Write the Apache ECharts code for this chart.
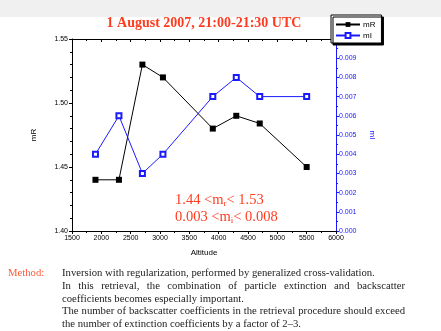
<!DOCTYPE html>
<html>
<head>
<meta charset="utf-8">
<script src="https://cdn.jsdelivr.net/npm/echarts@6/dist/echarts.min.js"></script>
<style>
  html, body { margin: 0; padding: 0; background: #fff; }
  #chart { width: 441px; height: 331px; position: absolute; left: 0; top: 0; }
  .method { position: absolute; font-family: 'Liberation Serif', 'DejaVu Serif', serif; font-size: 10.7px; line-height: 12.8px; color: #222; }
  .method .lbl { position: absolute; left: 8px; top: 266px; color: #ff5a3a; }
  .method .body { position: absolute; left: 62px; top: 266px; width: 343px; text-align: justify; }
  .method p { margin: 0; }
</style>
</head>
<body>
<div id="chart"></div>
<div class="method">
  <div class="lbl">Method:</div>
  <div class="body">
    <p style="text-align:left">Inversion with regularization, performed by generalized cross-validation.</p>
    <p>In this retrieval, the combination of particle extinction and backscatter coefficients becomes especially important.</p>
    <p>The number of backscatter coefficients in the retrieval procedure should exceed the number of extinction coefficients by a factor of 2&ndash;3.</p>
  </div>
</div>
<script>
// altitude of each retrieval point
const altitude = [1900, 2300, 2700, 3050, 3900, 4300, 4700, 5500]
// real part of refractive index
const mR = [1.44, 1.44, 1.53, 1.52, 1.48, 1.49, 1.484, 1.45]
// imaginary part of refractive index
const mI = [0.004, 0.006, 0.003, 0.004, 0.007, 0.008, 0.007, 0.007]

const titleText = '1 August 2007, 21:00-21:30 UTC'
const red = '#ff3b1f'
const blue = '#1a1aff'

const chart = echarts.init(document.getElementById('chart'))

const pairs = (ys) => altitude.map((x, i) => [x, ys[i]])

chart.setOption({
  animation: false,
  grid: { left: 72, right: 105, top: 39, bottom: 100 },
  legend: {
    orient: 'vertical',
    left: 331,
    top: 15,
    padding: [5, 6, 3, 4],
    itemGap: 2,
    itemWidth: 24,
    itemHeight: 6,
    backgroundColor: '#fff',
    borderColor: '#000',
    borderWidth: 1,
    borderRadius: 0,
    shadowColor: '#000',
    shadowBlur: 0,
    shadowOffsetX: 2,
    shadowOffsetY: 2,
    textStyle: { fontSize: 8, lineHeight: 9, fontFamily: 'Liberation Sans', color: '#000', padding: [0, 0, 0, -2] },
    data: ['mR', 'mI']
  },
  xAxis: [{
    type: 'value',
    min: 1500,
    max: 6000,
    interval: 500,
    name: 'Altitude',
    nameLocation: 'middle',
    nameGap: 18,
    nameTextStyle: { fontSize: 8, fontFamily: 'Liberation Sans', color: '#000' },
    axisLine: { lineStyle: { color: '#000', width: 1 } },
    axisTick: { inside: false, length: 3, lineStyle: { color: '#000' } },
    minorTick: { show: true, splitNumber: 2, length: 2, lineStyle: { color: '#000' } },
    axisLabel: { fontSize: 7, fontFamily: 'Liberation Sans', color: '#000', margin: 4, formatter: v => String(v) },
    splitLine: { show: false }
  }, {
    type: 'value',
    position: 'top',
    min: 1500,
    max: 6000,
    interval: 500,
    axisLine: { show: true, lineStyle: { color: '#000', width: 1 } },
    axisTick: { inside: true, length: 3, lineStyle: { color: '#000' } },
    minorTick: { show: true, splitNumber: 2, length: 2, lineStyle: { color: '#000' } },
    axisLabel: { show: false },
    splitLine: { show: false }
  }],
  yAxis: [{
    type: 'value',
    min: 1.40,
    max: 1.55,
    interval: 0.05,
    name: 'mR',
    nameLocation: 'middle',
    nameGap: 34,
    nameTextStyle: { fontSize: 8, fontFamily: 'Liberation Sans', color: '#000' },
    axisLine: { show: true, lineStyle: { color: '#000', width: 1 } },
    axisTick: { inside: false, length: 3, lineStyle: { color: '#000' } },
    minorTick: { show: true, splitNumber: 5, length: 2, lineStyle: { color: '#000' } },
    axisLabel: { fontSize: 7, fontFamily: 'Liberation Sans', color: '#000', margin: 4, formatter: v => v.toFixed(2) },
    splitLine: { show: false }
  }, {
    type: 'value',
    position: 'right',
    min: 0,
    max: 0.010,
    interval: 0.001,
    name: 'mI',
    nameLocation: 'middle',
    nameRotate: -90,
    nameGap: 32,
    nameTextStyle: { fontSize: 8, fontFamily: 'Liberation Sans', color: blue },
    axisLine: { show: true, lineStyle: { color: blue, width: 1 } },
    axisTick: { inside: false, length: 3, lineStyle: { color: blue } },
    minorTick: { show: true, splitNumber: 2, length: 2, lineStyle: { color: blue } },
    axisLabel: { fontSize: 7, fontFamily: 'Liberation Sans', color: blue, margin: 3, formatter: v => v.toFixed(3) },
    splitLine: { show: false }
  }],
  series: [{
    name: 'mR',
    type: 'line',
    xAxisIndex: 0,
    yAxisIndex: 0,
    data: pairs(mR),
    symbol: 'rect',
    symbolSize: 6,
    lineStyle: { color: '#000', width: 1 },
    itemStyle: { color: '#000' },
    z: 3
  }, {
    name: 'mI',
    type: 'line',
    xAxisIndex: 0,
    yAxisIndex: 1,
    data: pairs(mI),
    symbol: 'emptyRect',
    symbolSize: 5,
    lineStyle: { color: blue, width: 1 },
    itemStyle: { color: blue, borderColor: blue, borderWidth: 1 },
    z: 3
  }],
  graphic: [{
    type: 'rect',
    silent: true,
    z: -10,
    shape: { x: 0, y: 0, width: 441, height: 17 },
    style: { fill: '#f0f0f0' }
  }, {
    type: 'text',
    x: 204,
    y: 23,
    style: {
      text: titleText,
      fill: red,
      font: 'bold 14px "Liberation Serif"',
      align: 'center',
      verticalAlign: 'middle'
    }
  }, {
    type: 'text',
    x: 175,
    y: 191,
    style: {
      text: '{a|1.44 <m}{s|r}{a|< 1.53}\n{a|0.003 <m}{s|i}{a|< 0.008}',
      fill: red,
      rich: {
        a: { fontSize: 14.5, fontFamily: 'Liberation Serif', fill: red, lineHeight: 17, verticalAlign: 'bottom' },
        s: { fontSize: 9, fontFamily: 'Liberation Serif', fill: red, lineHeight: 9, verticalAlign: 'bottom' }
      }
    }
  }]
})
</script>
</body>
</html>
